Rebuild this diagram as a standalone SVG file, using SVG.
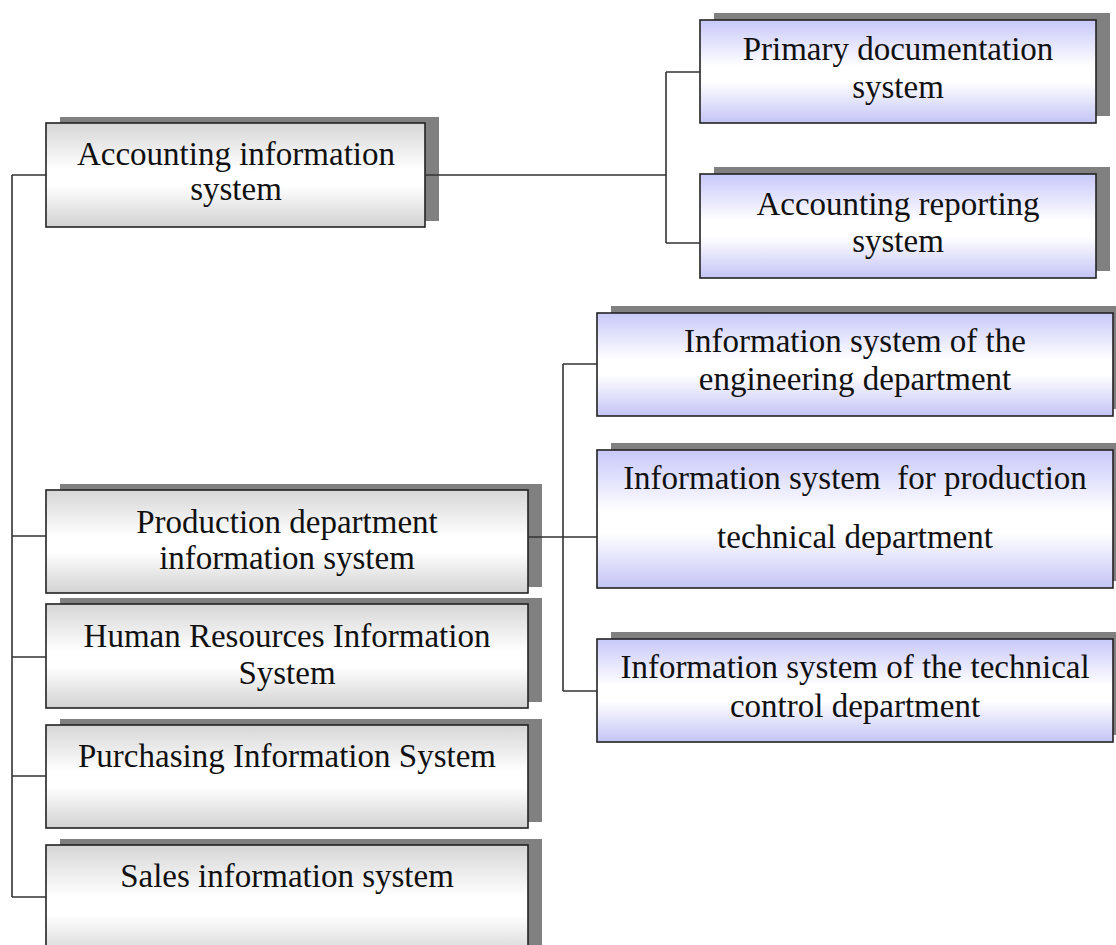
<svg xmlns="http://www.w3.org/2000/svg" width="1116" height="945" viewBox="0 0 1116 945">
  <defs>
    <linearGradient id="gGray" x1="0" y1="0" x2="0" y2="1">
      <stop offset="0" stop-color="#d6d6d6"/>
      <stop offset="0.45" stop-color="#ffffff"/>
      <stop offset="0.6" stop-color="#ffffff"/>
      <stop offset="1" stop-color="#d2d2d2"/>
    </linearGradient>
    <linearGradient id="gBlue" x1="0" y1="0" x2="0" y2="1">
      <stop offset="0" stop-color="#c8c8fa"/>
      <stop offset="0.45" stop-color="#ffffff"/>
      <stop offset="0.6" stop-color="#ffffff"/>
      <stop offset="1" stop-color="#c4c4f6"/>
    </linearGradient>
  </defs>
  <style>
    .sh { fill: #808080; }
    .bg { fill: url(#gGray); stroke: #222; stroke-width: 1.6; }
    .bb { fill: url(#gBlue); stroke: #222; stroke-width: 1.6; }
    .t { font-family: "Liberation Serif", "Times New Roman", serif; font-size: 33px; fill: #111; text-anchor: middle; }
    .c { fill: none; stroke: #333; stroke-width: 1.6; }
  </style>
  <rect width="1116" height="945" fill="#ffffff"/>

  <g id="acc">
    <rect class="sh" x="60" y="117" width="379" height="104"/>
    <rect class="bg" x="46" y="123" width="379" height="104"/>
    <text class="t" x="236" y="165">Accounting information</text>
    <text class="t" x="236" y="200">system</text>
  </g>

  <g id="primary">
    <rect class="sh" x="714" y="13" width="396" height="103"/>
    <rect class="bb" x="700" y="20" width="396" height="103"/>
    <text class="t" x="898" y="60">Primary documentation</text>
    <text class="t" x="898" y="98">system</text>
  </g>

  <g id="accrep">
    <rect class="sh" x="714" y="167" width="396" height="104"/>
    <rect class="bb" x="700" y="174" width="396" height="104"/>
    <text class="t" x="898" y="215">Accounting reporting</text>
    <text class="t" x="898" y="252">system</text>
  </g>

  <g id="eng">
    <rect class="sh" x="611" y="306" width="516" height="103"/>
    <rect class="bb" x="597" y="313" width="516" height="103"/>
    <text class="t" x="855" y="352">Information system of the</text>
    <text class="t" x="855" y="390">engineering department</text>
  </g>

  <g id="prodtech">
    <rect class="sh" x="611" y="443" width="516" height="138"/>
    <rect class="bb" x="597" y="450" width="516" height="138"/>
    <text class="t" x="855" y="489" xml:space="preserve">Information system  for production</text>
    <text class="t" x="855" y="548">technical  department</text>
  </g>

  <g id="techctrl">
    <rect class="sh" x="611" y="632" width="516" height="103"/>
    <rect class="bb" x="597" y="639" width="516" height="103"/>
    <text class="t" x="855" y="678">Information system of the technical</text>
    <text class="t" x="855" y="717">control department</text>
  </g>

  <g id="prod">
    <rect class="sh" x="60" y="484" width="482" height="103"/>
    <rect class="bg" x="46" y="490" width="482" height="103"/>
    <text class="t" x="287" y="533">Production department</text>
    <text class="t" x="287" y="569">information system</text>
  </g>

  <g id="hr">
    <rect class="sh" x="60" y="598" width="482" height="104"/>
    <rect class="bg" x="46" y="604" width="482" height="104"/>
    <text class="t" x="287" y="647">Human Resources Information</text>
    <text class="t" x="287" y="684">System</text>
  </g>

  <g id="purch">
    <rect class="sh" x="60" y="719" width="482" height="103"/>
    <rect class="bg" x="46" y="725" width="482" height="103"/>
    <text class="t" x="287" y="767">Purchasing Information System</text>
  </g>

  <g id="sales">
    <rect class="sh" x="60" y="839" width="482" height="115"/>
    <rect class="bg" x="46" y="845" width="482" height="115"/>
    <text class="t" x="287" y="887">Sales information system</text>
  </g>

  <g id="connectors">
    <path class="c" d="M12 175 V897 M12 175 H46 M12 536 H46 M12 657 H46 M12 776 H46 M12 897 H46"/>
    <path class="c" d="M425 175 H666 M666 72 V243 M666 72 H700 M666 243 H700"/>
    <path class="c" d="M528 537 H597 M563 364 V691 M563 364 H597 M563 691 H597"/>
  </g>
</svg>
